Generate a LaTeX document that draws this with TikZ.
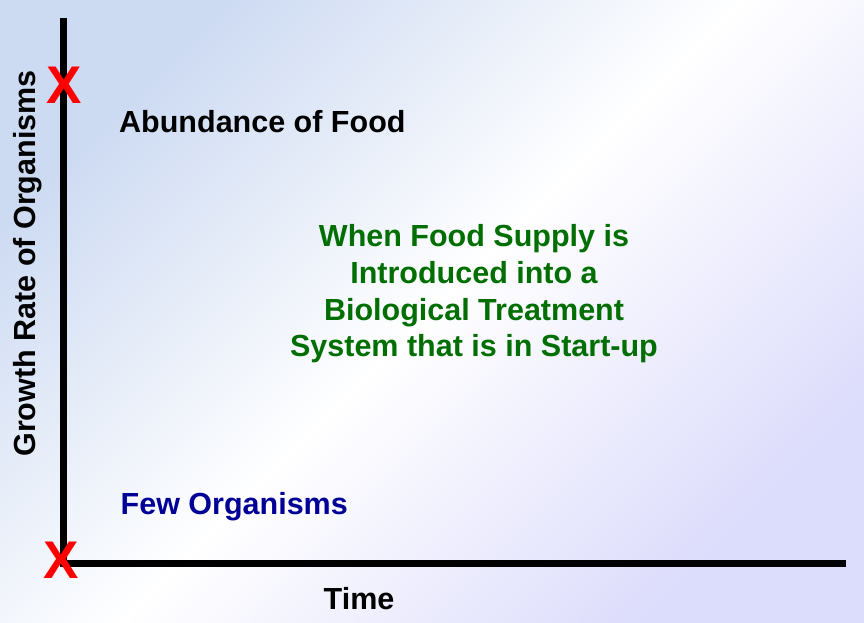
\documentclass[tikz,border=0pt]{standalone}
\usepackage{fontspec}
\setmainfont{Liberation Sans}
\definecolor{bgblue}{RGB}{204,218,242}
\definecolor{bglav}{RGB}{220,220,252}
\definecolor{txtgreen}{RGB}{0,110,0}
\definecolor{txtblue}{RGB}{0,0,150}
\begin{document}
\begin{tikzpicture}[x=1pt,y=-1pt,
  lbl/.style={inner sep=0pt,font=\fontsize{30.5}{36.6}\selectfont\bfseries},
  xmark/.style={inner sep=0pt,text=red,font=\fontsize{53}{53}\selectfont\bfseries},
  axisline/.style={line width=6.5pt,black}]
\shade[shading=axis,top color=bgblue,bottom color=bglav,middle color=white,shading angle=45]
  (0,0) rectangle (864,623);
\useasboundingbox (0,0) rectangle (864,623);
\coordinate (top) at (63.5,18);
\coordinate (origin) at (63.5,563.5);
\coordinate (right) at (846,563.5);
\draw[axisline] (top) -- ([yshift=3.25pt]origin.center) ;
\draw[axisline] ([xshift=-3.25pt]origin) -- (right);
\node[xmark] (xtop) at (64.5,85) {X};
\node[xmark] (xbot) at (61.5,560) {X};
\node[lbl,anchor=base west] (abund) at (119,132.3) {Abundance of Food};
\node[lbl,anchor=base west,text=txtblue] (few) at (120.5,514) {Few Organisms};
\node[lbl,anchor=base] (time) at (359,609) {Time};
\node[lbl,anchor=base,rotate=90] (ylab) at (35,263.5) {Growth Rate of Organisms};
\node[lbl,text=txtgreen,align=center,anchor=base] (title) at (474,356.7)
  {When Food Supply is\\Introduced into a\\Biological Treatment\\System that is in Start-up};
\end{tikzpicture}
\end{document}
